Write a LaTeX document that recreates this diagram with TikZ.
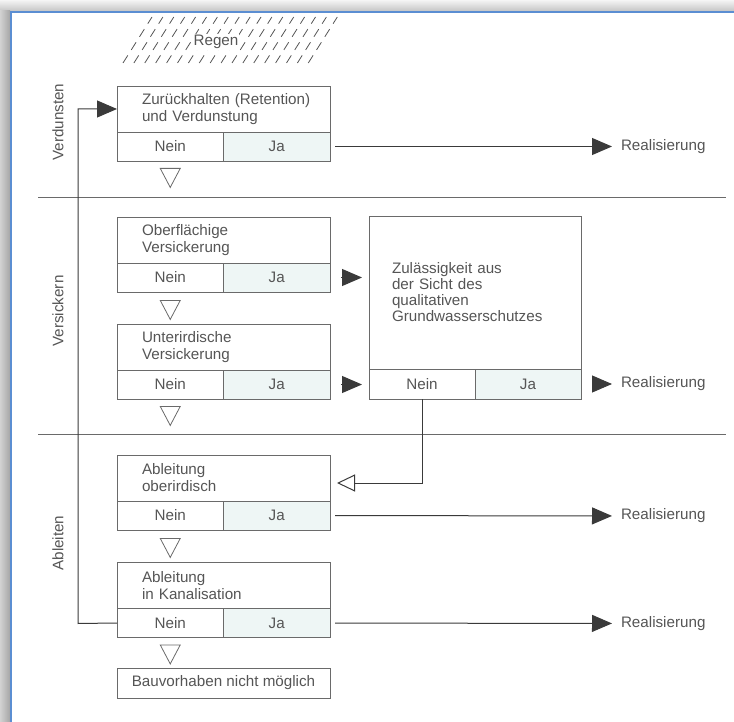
\documentclass[tikz,border=0pt]{standalone}
\usepackage{fontspec}
\setsansfont{Liberation Sans}
\usepackage{tikz}
\usetikzlibrary{positioning,arrows.meta,shapes.geometric}
\definecolor{txtgray}{HTML}{555555}
\definecolor{boxgray}{HTML}{6A6A6A}
\definecolor{linegray}{HTML}{3A3A3A}
\definecolor{jafill}{HTML}{EEF6F5}
\definecolor{frameblue}{HTML}{5B8ED2}

\begin{document}
\begin{tikzpicture}[x=1pt, y=-1pt, text=txtgray,
                    font=\sffamily\fontsize{15.2}{17}\selectfont,
                    title node/.style={rectangle,draw=boxgray,line width=0.8pt,outer sep=0pt,
                                       text width=163pt,inner xsep=25pt,align=left,minimum height=46pt},
                    cell node/.style={rectangle,draw=boxgray,line width=0.8pt,outer sep=0pt,
                                      inner sep=0pt,minimum width=106.5pt,minimum height=29pt},
                    nein/.style={cell node,fill=white},
                    ja/.style={cell node,fill=jafill},
                    down tri/.style={isosceles triangle,isosceles triangle stretches,shape border rotate=270,
                                     draw=boxgray,line width=0.8pt,inner sep=0pt,minimum width=20pt,minimum height=19pt},
                    real/.style={anchor=west,inner xsep=9pt,inner ysep=0pt,outer sep=0pt},
                    flow/.style={draw=linegray,line width=1pt,-{Triangle[length=20pt,width=17pt]}},
                    back/.style={draw=linegray,line width=1pt,-{Triangle[open,length=18pt,width=17pt]}},
                    rain/.style={draw=txtgray,line width=0.8pt,dash pattern=on 9pt off 6.5pt}]

  \useasboundingbox (0,0) rectangle (734,722);

  % frame
  \shade[top color=gray!8,bottom color=gray!45] (0,0) rectangle (734,11);
  \shade[left color=gray!35,right color=gray!70] (0,11) rectangle (10,722);
  \draw[frameblue,line width=1.5pt] (11,722) -- (11,12) -- (734,12);

  % Regen
  \foreach \i in {0,...,17}
    \draw[rain] (123+10.9*\i,63) -- ++(29,-46);
  \node[fill=white,inner sep=1pt] (regen) at (216,42) {Regen};

  % sections
  \draw[boxgray,line width=0.8pt] (38,197) -- (726,197);
  \draw[boxgray,line width=0.8pt] (38,434) -- (726,434);
  \node[rotate=90] (verd) at (58,122) {Verdunsten};
  \node[rotate=90] (vers) at (58,311) {Versickern};
  \node[rotate=90] (ablt) at (58,543) {Ableiten};

  % boxes
  \node[title node] (t1) at (223.5,109) {\mbox{Zurückhalten (Retention)}\\und Verdunstung};
  \node[nein] (n1) [below right=0pt and 0pt of t1.south west] {Nein};
  \node[ja] (j1) [right=0pt of n1] {Ja};
  \node[down tri] (v1) [below=7pt of n1] {};

  \node[title node] (t2) at (223.5,240) {Oberflächige\\Versickerung};
  \node[nein] (n2) [below right=0pt and 0pt of t2.south west] {Nein};
  \node[ja] (j2) [right=0pt of n2] {Ja};
  \node[down tri] (v2) [below=8pt of n2] {};

  \node[title node] (t3) at (223.5,347) {Unterirdische\\Versickerung};
  \node[nein] (n3) [below right=0pt and 0pt of t3.south west] {Nein};
  \node[ja] (j3) [right=0pt of n3] {Ja};
  \node[down tri] (v3) [below=7pt of n3] {};

  \node[title node,minimum height=153pt,text width=166pt,inner xsep=23pt,
        font=\sffamily\fontsize{15.2}{16}\selectfont] (tz) at (475,292.5)
        {Zulässigkeit aus\\der Sicht des\\qualitativen\\Grundwasserschutzes};
  \node[nein,minimum width=106pt,minimum height=30pt] (nz) [below right=0pt and 0pt of tz.south west] {Nein};
  \node[ja,minimum width=106pt,minimum height=30pt] (jz) [right=0pt of nz] {Ja};

  \node[title node] (t4) at (223.5,478) {Ableitung\\oberirdisch};
  \node[nein] (n4) [below right=0pt and 0pt of t4.south west] {Nein};
  \node[ja] (j4) [right=0pt of n4] {Ja};
  \node[down tri] (v4) [below=8pt of n4] {};

  \node[title node] (t5) at (223.5,585.5) {Ableitung\\in Kanalisation};
  \node[nein] (n5) [below right=0pt and 0pt of t5.south west] {Nein};
  \node[ja] (j5) [right=0pt of n5] {Ja};
  \node[down tri] (v5) [below=7pt of n5] {};

  \node[rectangle,draw=boxgray,line width=0.8pt,minimum width=213pt,minimum height=30pt]
    (bau) at (223.5,683) {Bauvorhaben nicht möglich};

  % Realisierung
  \node[real] (r1) at (612,146.5) {Realisierung};
  \node[real] (rz) at (612,384) {Realisierung};
  \node[real] (r4) at (612,516) {Realisierung};
  \node[real] (r5) at (612,623.5) {Realisierung};

  % connectors
  \coordinate (lp) at (78,623.5);
  \draw[flow] (n5.west) -- (lp) |- (t1.west);
  \path (j1) edge[flow,shorten <=5pt] (r1)
        (j4) edge[flow,shorten <=5pt] (r4)
        (j5) edge[flow,shorten <=5pt] (r5)
        (jz) edge[flow,shorten <=13pt] (rz);
  \draw[flow,shorten <=11pt,shorten >=7pt] (j2.east) -- (j2.east -| tz.west);
  \draw[flow,shorten <=11pt,shorten >=7pt] (j3.east) -- (j3.east -| tz.west);
  \draw[back,shorten >=7pt] (nz) |- ([yshift=-5pt]t4.east);
\end{tikzpicture}
\end{document}
